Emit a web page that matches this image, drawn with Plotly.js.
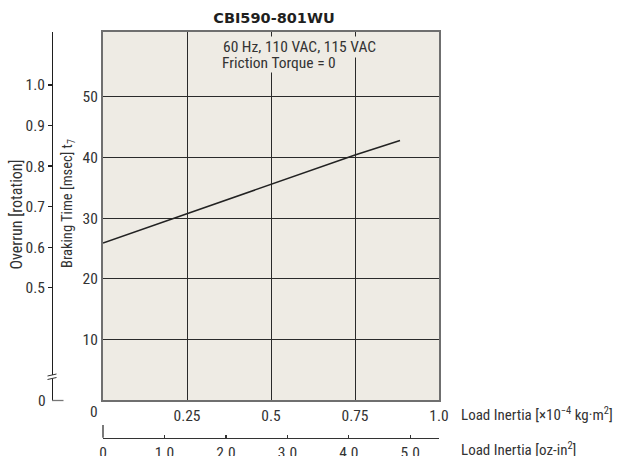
<!DOCTYPE html>
<html>
<head>
<meta charset="utf-8">
<script src="https://cdn.plot.ly/plotly-3.0.1.min.js"></script>
<style>
html,body{margin:0;padding:0;background:#fff;}
#chart{width:621px;height:456px;}
svg text{font-stretch:75%;}
#chart text.gtitle{font-stretch:100% !important;}
</style>
</head>
<body>
<div id="chart"></div>
<script>
// ---- data ----
const chartTitle = 'CBI590-801WU';
const inertiaKg = [0, 0.25, 0.5, 0.75, 0.884];          // Load inertia ×10^-4 kg·m²
const brakingMs = [25.9, 30.7, 35.5, 40.4, 42.8];       // Braking time [msec]
const xTickVals = [0.25, 0.5, 0.75, 1.0];
const xTickText = ['0.25', '0.5', '0.75', '1.0'];
const yTickVals = [10, 20, 30, 40, 50];
const yTickText = ['10', '20', '30', '40', '50'];
const ozTickVals = [0, 1, 2, 3, 4, 5];
const ozTickText = ['0', '1.0', '2.0', '3.0', '4.0', '5.0'];
const overrunTickVals = [0.5, 0.6, 0.7, 0.8, 0.9, 1.0];
const overrunTickText = ['0.5', '0.6', '0.7', '0.8', '0.9', '1.0'];
const KG_TO_OZIN = 5.4675;   // 1×10^-4 kg·m² in oz-in²

// ---- layout helpers (pixel -> paper, margins are 0) ----
const W = 621, H = 456;
const px = x => x / W;
const py = y => 1 - y / H;

const FONT = 'Roboto, sans-serif';
const TXT = '#333333';
const BG = '#EEEBE4';
const GRID = '#2a2a2a';
const FRAME = '#6f6f6f';
const TS = 15.5;   // tick label size

const xDom = [px(103), px(439)];
const yDom = [py(400), py(32)];

const traces = [
  {x: inertiaKg, y: brakingMs, xaxis: 'x', yaxis: 'y', mode: 'lines',
   line: {color: '#222222', width: 1.5}, showlegend: false, hoverinfo: 'skip'},
  {x: [null], y: [null], xaxis: 'x2', yaxis: 'y', mode: 'lines', showlegend: false, hoverinfo: 'skip'},
  {x: [null], y: [null], xaxis: 'x', yaxis: 'y3', mode: 'lines', showlegend: false, hoverinfo: 'skip'}
];

const layout = {
  width: W, height: H,
  margin: {l: 0, r: 0, t: 0, b: 0},
  paper_bgcolor: '#ffffff',
  plot_bgcolor: BG,
  showlegend: false,
  font: {family: FONT, size: TS, color: TXT},
  title: {text: chartTitle, x: px(274), y: py(18), xanchor: 'center', yanchor: 'middle',
          font: {family: 'DejaVu Sans, sans-serif', size: 14.5, color: '#1f1f1f', weight: 'bold'}},
  xaxis: {domain: xDom, range: [0, 1], tickvals: xTickVals, ticktext: xTickText,
          showgrid: true, gridcolor: GRID, gridwidth: 1, zeroline: false,
          showline: true, mirror: true, linecolor: FRAME, linewidth: 2, ticks: '',
          tickfont: {family: FONT, size: TS, color: TXT}, fixedrange: true},
  yaxis: {domain: yDom, range: [0, 60.7], tickvals: yTickVals, ticktext: yTickText,
          showgrid: true, gridcolor: GRID, gridwidth: 1, zeroline: false,
          showline: true, mirror: true, linecolor: FRAME, linewidth: 2, ticks: '',
          tickfont: {family: FONT, size: TS, color: TXT}, fixedrange: true},
  xaxis2: {overlaying: 'x', anchor: 'free', position: py(437.7), side: 'bottom', domain: xDom,
           range: [0, 1.0 * KG_TO_OZIN], tickvals: ozTickVals, ticktext: ozTickText,
           showgrid: false, zeroline: false, showline: true, linecolor: '#333333', linewidth: 1.3,
           ticks: 'inside', ticklen: 3, tickwidth: 1.2, tickcolor: '#333333',
           tickfont: {family: FONT, size: TS, color: TXT}, fixedrange: true},
  yaxis3: {overlaying: 'y', anchor: 'free', position: px(52), side: 'left', domain: yDom,
           range: [0.223, 1.1307], tickvals: overrunTickVals, ticktext: overrunTickText,
           showgrid: false, zeroline: false, showline: true, linecolor: '#1f1f1f', linewidth: 1.3,
           ticks: 'outside', ticklen: 4, tickwidth: 1.2, tickcolor: '#1f1f1f',
           tickfont: {family: FONT, size: TS, color: TXT}, fixedrange: true},
  annotations: [
    {text: '60 Hz, 110 VAC, 115 VAC', xref: 'paper', yref: 'paper', x: px(221), y: py(47.5),
     xanchor: 'left', yanchor: 'middle', showarrow: false, bgcolor: BG, borderpad: 1,
     font: {family: FONT, size: 15.5, color: TXT}},
    {text: 'Friction Torque = 0', xref: 'paper', yref: 'paper', x: px(221), y: py(62.5),
     xanchor: 'left', yanchor: 'middle', showarrow: false, bgcolor: BG, borderpad: 0,
     font: {family: FONT, size: 15.5, color: TXT}},
    {text: 'Overrun [rotation]', xref: 'paper', yref: 'paper', x: px(15.5), y: py(215),
     xanchor: 'center', yanchor: 'middle', textangle: -90, showarrow: false,
     font: {family: FONT, size: 16, color: TXT}},
    {text: 'Braking Time [msec] t<sub>7</sub>', xref: 'paper', yref: 'paper', x: px(68), y: py(204),
     xanchor: 'center', yanchor: 'middle', textangle: -90, showarrow: false,
     font: {family: FONT, size: 14.5, color: TXT}},
    {text: 'Load Inertia [×10<sup>−4</sup> kg·m<sup>2</sup>]', xref: 'paper', yref: 'paper', x: px(459), y: py(414),
     xanchor: 'left', yanchor: 'middle', showarrow: false,
     font: {family: FONT, size: 15, color: TXT}},
    {text: 'Load Inertia [oz-in<sup>2</sup>]', xref: 'paper', yref: 'paper', x: px(459), y: py(449),
     xanchor: 'left', yanchor: 'middle', showarrow: false,
     font: {family: FONT, size: 15, color: TXT}},
    {text: '0', xref: 'paper', yref: 'paper', x: px(93.5), y: py(412),
     xanchor: 'center', yanchor: 'middle', showarrow: false,
     font: {family: FONT, size: TS, color: TXT}},
    {text: '0', xref: 'paper', yref: 'paper', x: px(42), y: py(401),
     xanchor: 'center', yanchor: 'middle', showarrow: false,
     font: {family: FONT, size: TS, color: TXT}}
  ],
  shapes: [
    // bottom stub of the broken overrun axis
    {type: 'line', xref: 'paper', yref: 'paper', x0: px(52), x1: px(63.5), y0: py(400.5), y1: py(400.5),
     line: {color: '#777777', width: 1.3}},
    // axis break marks
    {type: 'rect', xref: 'paper', yref: 'paper', x0: px(50), x1: px(54), y0: py(378.5), y1: py(375),
     line: {width: 0}, fillcolor: '#ffffff'},
    {type: 'line', xref: 'paper', yref: 'paper', x0: px(47.5), x1: px(56.5), y0: py(376), y1: py(374),
     line: {color: '#333333', width: 1}},
    {type: 'line', xref: 'paper', yref: 'paper', x0: px(47.5), x1: px(56.5), y0: py(379.5), y1: py(377.5),
     line: {color: '#333333', width: 1}},
    // longer start tick of the oz-in² axis
    {type: 'line', xref: 'paper', yref: 'paper', x0: px(103), x1: px(103), y0: py(425), y1: py(437.7),
     line: {color: '#333333', width: 1.3}}
  ]
};

Plotly.newPlot('chart', traces, layout, {displayModeBar: false, staticPlot: true});
</script>
</body>
</html>
